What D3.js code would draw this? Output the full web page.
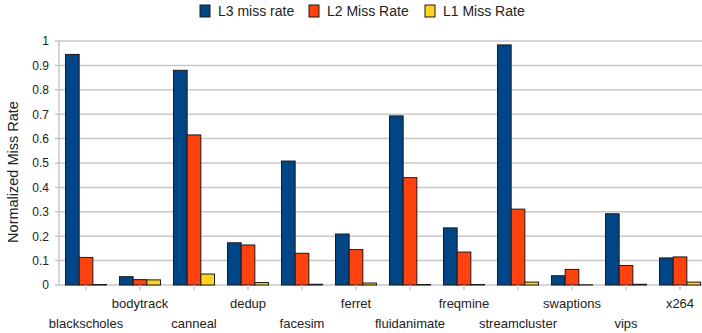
<!DOCTYPE html>
<html lang="en">
<head>
<meta charset="UTF-8">
<title>Normalized Miss Rate</title>
<script src="https://d3js.org/d3.v7.min.js"></script>
<style>
    body { margin: 0; background: #fff; }
    text { font-family: "Liberation Sans", Arial, sans-serif; fill: #222; }
    .grid line { stroke: #c8c8c8; stroke-width: 1.5px; }
    .bar { stroke: #1a1a1a; stroke-width: 1px; }
</style>
</head>
<body>
<script>
    // data
    const benchmarks = ["blackscholes", "bodytrack", "canneal", "dedup", "facesim", "ferret",
        "fluidanimate", "freqmine", "streamcluster", "swaptions", "vips", "x264"];
    const seriesNames = ["L3 miss rate", "L2 Miss Rate", "L1 Miss Rate"];
    const l3 = [0.945, 0.034, 0.88, 0.173, 0.508, 0.209, 0.693, 0.234, 0.984, 0.038, 0.292, 0.111];
    const l2 = [0.113, 0.022, 0.615, 0.164, 0.13, 0.145, 0.44, 0.135, 0.311, 0.064, 0.08, 0.115];
    const l1 = [0.002, 0.021, 0.045, 0.01, 0.003, 0.008, 0.002, 0.002, 0.012, 0.001, 0.003, 0.012];
    const yTicks = [0, 0.1, 0.2, 0.3, 0.4, 0.5, 0.6, 0.7, 0.8, 0.9, 1];
    const colors = ["#004586", "#ff420e", "#ffd320"];

    const width = 702, height = 333;
    const plotLeft = 59, plotRight = 707, plotTop = 41, plotBottom = 285;

    const series = [l3, l2, l1];

    const svg = d3.select("body").append("svg").attr("width", width).attr("height", height);

    const x = d3.scaleBand().domain(benchmarks).range([plotLeft, plotRight]).paddingInner(0.24).paddingOuter(0.12);
    const xs = d3.scaleBand().domain(d3.range(3)).range([0, x.bandwidth()]);
    const y = d3.scaleLinear().domain([0, 1]).range([plotBottom, plotTop]);

    // gridlines
    const grid = svg.append("g").attr("class", "grid");
    grid.selectAll("line").data(yTicks).enter().append("line")
        .attr("x1", plotLeft - 4).attr("x2", width)
        .attr("y1", d => y(d)).attr("y2", d => y(d));
    svg.append("line").attr("x1", plotLeft).attr("x2", plotLeft).attr("y1", plotTop).attr("y2", plotBottom)
        .attr("stroke", "#c8c8c8").attr("stroke-width", 1.5);

    // y axis labels
    const yAxis = d3.axisLeft(y).tickValues(yTicks).tickSize(0).tickPadding(8)
        .tickFormat(d => d === 0 ? "0" : d === 1 ? "1" : d3.format(".1f")(d));
    const ya = svg.append("g").attr("transform", `translate(${plotLeft - 2},0)`).call(yAxis);
    ya.select(".domain").remove();
    ya.selectAll("text").attr("font-size", 12).attr("font-family", "Liberation Sans, Arial, sans-serif").attr("fill", "#222");

    svg.append("text").attr("transform", `translate(18,${(plotTop + plotBottom) / 2 + 9}) rotate(-90)`)
        .attr("text-anchor", "middle").attr("font-size", 14.5).text("Normalized Miss Rate");

    // bars
    const groups = svg.append("g").selectAll("g").data(benchmarks).enter().append("g")
        .attr("transform", d => `translate(${x(d)},0)`);
    groups.selectAll("rect").data((d, i) => series.map((s, k) => ({k: k, v: s[i]}))).enter().append("rect")
        .attr("class", "bar")
        .attr("x", d => xs(d.k)).attr("width", xs.bandwidth())
        .attr("y", d => y(d.v)).attr("height", d => plotBottom - y(d.v))
        .attr("fill", d => colors[d.k]);

    // x ticks and staggered labels
    const xa = svg.append("g");
    xa.selectAll("line").data(benchmarks).enter().append("line")
        .attr("x1", d => x(d) + x.bandwidth() / 2).attr("x2", d => x(d) + x.bandwidth() / 2)
        .attr("y1", plotBottom).attr("y2", plotBottom + 5).attr("stroke", "#c8c8c8").attr("stroke-width", 1.5);
    xa.selectAll("text").data(benchmarks).enter().append("text")
        .attr("x", d => x(d) + x.bandwidth() / 2)
        .attr("y", (d, i) => i % 2 ? 308 : 328)
        .attr("text-anchor", "middle").attr("font-size", 13).text(d => d);

    // legend
    const legendX = [200, 309, 425];
    const lg = svg.append("g").selectAll("g").data(seriesNames).enter().append("g")
        .attr("transform", (d, i) => `translate(${legendX[i]},0)`);
    lg.append("rect").attr("x", 0).attr("y", 5).attr("width", 10).attr("height", 12)
        .attr("fill", (d, i) => colors[i]).attr("stroke", "#1a1a1a").attr("stroke-width", 1);
    lg.append("text").attr("x", 18).attr("y", 16).attr("font-size", 14).text(d => d);
</script>
</body>
</html>
